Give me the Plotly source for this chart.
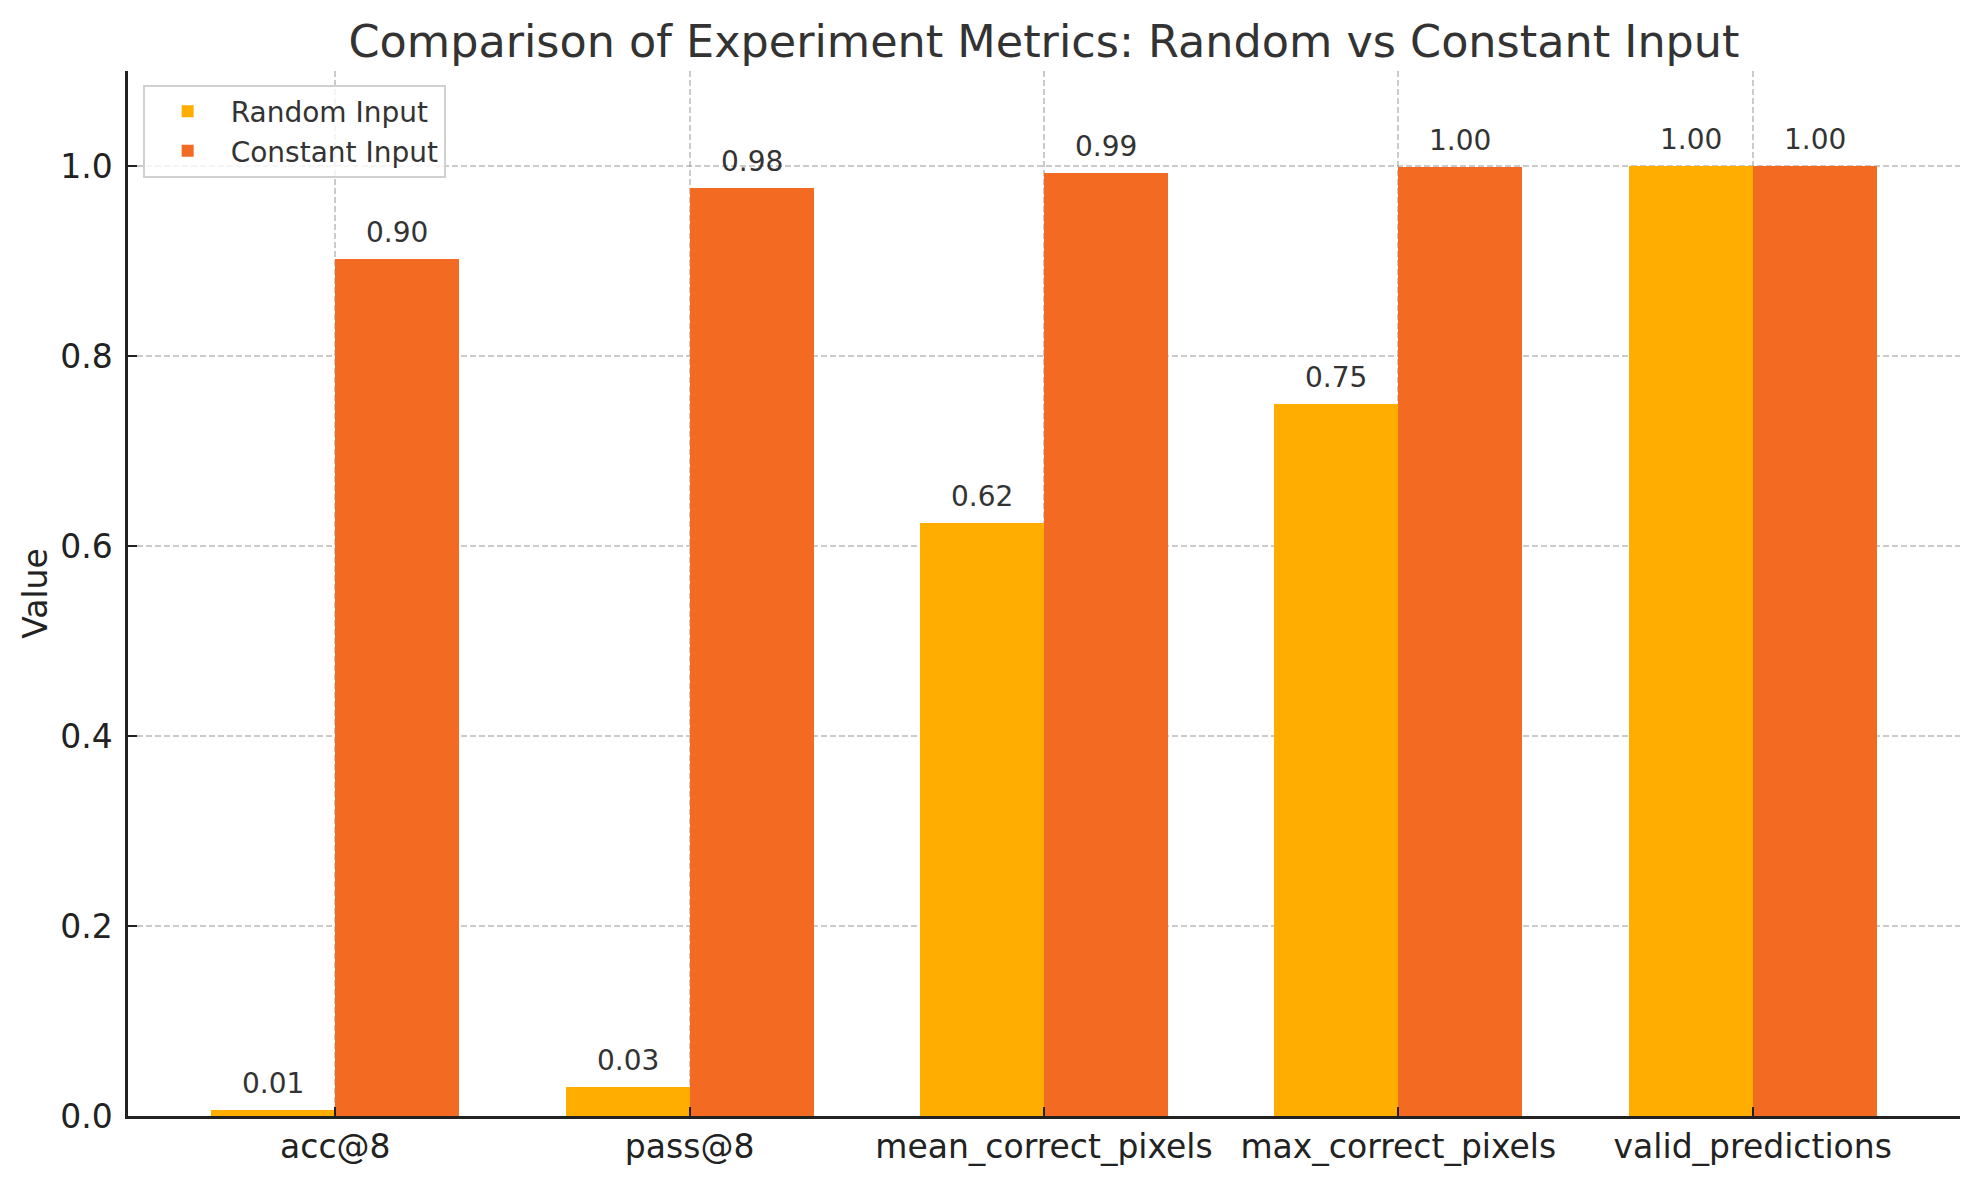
import plotly.graph_objects as go

categories = ["acc@8", "pass@8", "mean_correct_pixels", "max_correct_pixels", "valid_predictions"]
random_input = [0.006, 0.031, 0.624, 0.750, 1.000]
constant_input = [0.902, 0.977, 0.993, 0.999, 1.000]
series_names = ["Random Input", "Constant Input"]
y_ticks = [0.0, 0.2, 0.4, 0.6, 0.8, 1.0]

COL_RANDOM = "#FFAE00"
COL_CONST = "#F36A22"
FONT = "DejaVu Sans"
BAR_W = 0.35

idx = list(range(len(categories)))
x_rand = [i - BAR_W / 2 for i in idx]
x_const = [i + BAR_W / 2 for i in idx]

fig = go.Figure()
fig.add_trace(go.Bar(x=x_rand, y=random_input, width=BAR_W, name=series_names[0],
                     marker=dict(color=COL_RANDOM, line=dict(width=0))))
fig.add_trace(go.Bar(x=x_const, y=constant_input, width=BAR_W, name=series_names[1],
                     marker=dict(color=COL_CONST, line=dict(width=0))))

annotations = []
for xs, vals in ((x_rand, random_input), (x_const, constant_input)):
    for x, v in zip(xs, vals):
        annotations.append(dict(x=x, y=v, xref="x", yref="y", text=f"{v:.2f}",
                                showarrow=False, yanchor="bottom", yshift=8,
                                font=dict(family=FONT, size=28, color="#333333")))

grid = "rgba(150,150,150,0.5)"
fig.update_layout(
    width=1979, height=1180,
    margin=dict(l=120, r=27, t=63, b=72, autoexpand=False),
    paper_bgcolor="white", plot_bgcolor="white",
    font=dict(family=FONT, color="#262626"),
    title=dict(text="Comparison of Experiment Metrics: Random vs Constant Input",
               x=1036 / 1979, xanchor="center",
               y=1 - 33 / 1180, yanchor="middle",
               font=dict(family=FONT, size=44.5, color="#333333")),
    barmode="overlay",
    bargap=0,
    showlegend=True,
    legend=dict(x=0.008, y=0.987, xanchor="left", yanchor="top",
                bgcolor="rgba(255,255,255,0.8)", bordercolor="#d0d0d0", borderwidth=2,
                font=dict(family=FONT, size=28, color="#333333"),
                itemwidth=76, tracegroupgap=0),
    annotations=annotations,
)
fig.update_xaxes(
    range=[-0.585, 4.585], tickmode="array", tickvals=idx, ticktext=categories,
    showline=True, linecolor="#222222", linewidth=2.5, mirror=False,
    ticks="inside", ticklen=9, tickwidth=2, tickcolor="#222222",
    tickfont=dict(family=FONT, size=33, color="#222222"),
    showgrid=True, gridcolor=grid, gridwidth=2, griddash="6px,3px",
    zeroline=False, layer="above traces", ticklabelstandoff=0, automargin=False,
)
fig.update_yaxes(
    range=[0, 1.1], tickmode="array", tickvals=y_ticks,
    ticktext=[f"{t:.1f}" for t in y_ticks],
    showline=True, linecolor="#222222", linewidth=2.5, mirror=False,
    ticks="inside", ticklen=9, tickwidth=2, tickcolor="#222222",
    tickfont=dict(family=FONT, size=33, color="#222222"),
    showgrid=True, gridcolor=grid, gridwidth=2, griddash="6px,3px",
    zeroline=False, layer="above traces", ticklabelstandoff=6, automargin=False,
    title=dict(text="Value", font=dict(family=FONT, size=33, color="#222222"), standoff=3),
)

fig.write_html("out.html")
